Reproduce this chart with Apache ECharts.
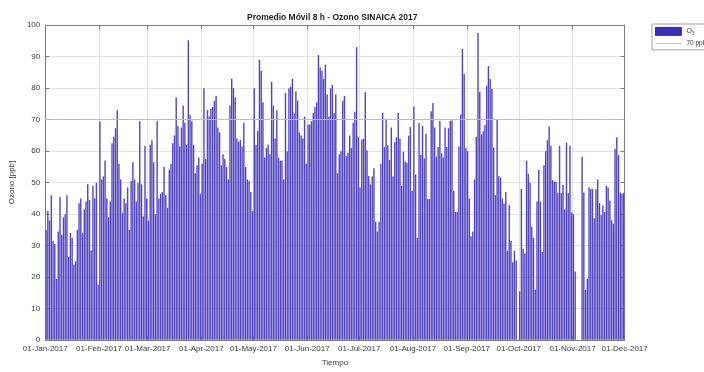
<!DOCTYPE html>
<html>
<head>
<meta charset="utf-8">
<script src="https://cdn.jsdelivr.net/npm/echarts@6/dist/echarts.min.js"></script>
<style>
html, body { margin: 0; padding: 0; background: #fff; }
#chart { width: 704px; height: 372px; }
</style>
</head>
<body>
<div id="chart"></div>
<script>
// Texts
const chartTitle = 'Promedio Móvil 8 h - Ozono SINAICA 2017';
const yAxisName = 'Ozono [ppb]';
const xAxisName = 'Tiempo';
const seriesName = 'O3';
const limitName = '70 ppb';
const limitValue = 70;

// Axis ticks
const yTicks = [0, 10, 20, 30, 40, 50, 60, 70, 80, 90, 100];
const xTickLabels = ['01-Jan-2017', '01-Feb-2017', '01-Mar-2017', '01-Apr-2017', '01-May-2017', '01-Jun-2017',
  '01-Jul-2017', '01-Aug-2017', '01-Sep-2017', '01-Oct-2017', '01-Nov-2017', '01-Dec-2017'];
const monthAbbr = ['Jan', 'Feb', 'Mar', 'Apr', 'May', 'Jun', 'Jul', 'Aug', 'Sep', 'Oct', 'Nov', 'Dec'];

// Daily 8 h moving-average ozone (ppb), one value per day; null = no data
const ozoneJan = [35, 41, 38, 46, 31.5, 30.5, 19.5, 34.5, 45.5, 33.5, 39, 40, 46, 26.5, 34, 32.5, 24, 25, 35, 43.5,
  45, 34, 41.5, 44, 49.5, 44.5, 28.5, 49, 45, 50, 17.6];
const ozoneFeb = [69.4, 51, 52, 57, 45, 39, 44, 62.5, 64.5, 67.3, 73, 56, 51, 40.4, 45, 43.5, 48.5, 35, 50.5, 56.5,
  51, 44, 50, 69.5, 49.5, 39.3, 61.6, 45];
const ozoneMar = [38, 62, 63.5, 56.5, 40, 69.5, 45, 46.5, 47, 55, 46, 42, 54, 56, 62.5, 65, 77, 68, 61.5, 67.5,
  74.5, 69, 62, 95.2, 71.5, 69.5, 62, 53, 55.5, 58, 46.5];
const ozoneApr = [56, 80, 57.5, 73, 71, 73.5, 74, 76, 77.5, 67.5, 66, 55.5, 59, 57.5, 55, 51, 74.5, 83, 80, 77,
  64, 63, 63.5, 61.5, 69, 55, 51, 50.5, 47, 41];
const ozoneMay = [80, 62, 66.5, 89, 85.5, 75.5, 58, 61, 62, 59, 82, 74.5, 64, 73, 58, 57, 57, 51, 78.5, 60,
  80, 80.5, 83, 72, 79, 76, 66, 65, 64, 71, 56];
const ozoneJun = [68.5, 68.5, 69.5, 72, 74, 75.5, 90.5, 86.5, 85.5, 83, 87.5, 78, 71, 80, 81, 72, 78, 53, 59, 60,
  76, 77.5, 58.5, 59.5, 65, 61, 69, 72.5, 93, 64.4];
const ozoneJul = [48.5, 63.7, 63.9, 78.7, 60.3, 52.1, 49.5, 52, 54.6, 37.6, 34.5, 37.6, 56, 72.2, 61.3, 70.3, 61.9,
  57.2, 67.5, 52, 62.9, 64.4, 72.2, 63.9, 49, 59.8, 56.7, 56.2, 64.9, 67.7, 47.4];
const ozoneAug = [74.2, 52.6, 32.5, 69, 58.8, 68, 57.7, 65.5, 44.8, 44.8, 72.7, 75.3, 67.5, 58.2, 61.3, 69.6, 59.3,
  58, 67.5, 61.3, 67.3, 69.6, 69.8, 47.4, 40.7, 40.7, 61.5, 71.6, 92.5, 84.5, 61];
const ozoneSep = [60, 45, 33, 34.5, 51, 64.5, 97.5, 78.8, 65.3, 66.3, 68.3, 80.8, 87, 82.9, 79.8, 61.2, 46, 69.9,
  52, 51.5, 45, 43.3, 47, 28.3, 42.8, 31.5, 24.7, 28.3, 25.3, null];
const ozoneOct = [15.5, 48, 29, 27.5, 57, 52.8, 50, 36, 32.5, 16, 44, 54, 44, 28, 55.5, 60, 63.5, 67.8, 61.7, 50.8,
  50.3, 50.3, 46.7, 61.7, 46.7, 49.3, 41.5, 62.7, 46.7, 61.7, 40.5];
const ozoneNov = [40, 21.8, null, null, null, 58.2, 46.9, 16, 19.5, 48.5, 48, 48, 38.7, 47.9, 51, 43.5, 39.7, 42.8,
  40.7, 49, 48.5, 44.3, 38.1, 37, 60.8, 64.4, 58.8, 46.9, 46.4, 46.7];

const ozone = [].concat(ozoneJan, ozoneFeb, ozoneMar, ozoneApr, ozoneMay, ozoneJun,
  ozoneJul, ozoneAug, ozoneSep, ozoneOct, ozoneNov);

// Day labels 'dd-MMM-yyyy' from 01-Jan-2017 through 01-Dec-2017
function dayLabel(t) {
  const d = new Date(t);
  const dd = String(d.getUTCDate()).padStart(2, '0');
  return dd + '-' + monthAbbr[d.getUTCMonth()] + '-' + d.getUTCFullYear();
}
const startTime = Date.UTC(2017, 0, 1);
const days = [];
for (let i = 0; i <= ozone.length; i++) days.push(dayLabel(startTime + i * 86400000));
const barDays = days.slice(0, ozone.length);

const isTick = (idx, value) => xTickLabels.indexOf(value) >= 0;

const axisColor = '#7d7d7d';
const textColor = '#3a3a3a';
const gridColor = '#e2e2e2';
const barColor = '#4a3dbf';
const limitColor = '#8ade8a';
const font = 'Liberation Sans, Arial, Helvetica, sans-serif';

const chart = echarts.init(document.getElementById('chart'), null, { renderer: 'canvas' });
chart.setOption({
  animation: false,
  textStyle: { fontFamily: font },
  title: {
    text: chartTitle,
    left: 242,
    top: 8,
    textStyle: { fontSize: 8.5, fontWeight: 'bold', color: '#1e1e1e', fontFamily: font }
  },
  legend: {
    orient: 'vertical',
    left: 652,
    top: 24,
    itemWidth: 26,
    itemHeight: 8,
    itemGap: 4,
    padding: [3, 4, 3, 3],
    borderColor: '#8a8a8a',
    borderWidth: 0.8,
    backgroundColor: '#fff',
    formatter: name => name === seriesName ? '{m|O}{s|3}' : name,
    textStyle: {
      fontSize: 6.5, color: textColor, fontFamily: font,
      rich: {
        m: { fontSize: 7, color: textColor },
        s: { fontSize: 5, color: textColor, padding: [4, 0, 0, 0] }
      }
    },
    data: [
      { name: seriesName, icon: 'rect', itemStyle: { color: '#3a2fb8', borderColor: '#1d1670', borderWidth: 0.8 } },
      { name: limitName, icon: 'path://M0,0 L26,0 L26,1 L0,1 Z', itemStyle: { color: limitColor } }
    ]
  },
  grid: { left: 42.7, right: 79.4, top: 25, bottom: 25, containLabel: false },
  xAxis: [
    { type: 'category', data: barDays, boundaryGap: true, show: false },
    {
      type: 'category', data: days, boundaryGap: false, position: 'bottom',
      axisLine: { show: true, lineStyle: { color: axisColor, width: 1 } },
      axisTick: { show: true, inside: true, length: 4, interval: isTick, lineStyle: { color: axisColor } },
      axisLabel: { interval: isTick, fontSize: 8, color: textColor, margin: 5, fontFamily: font },
      splitLine: { show: true, interval: isTick, lineStyle: { color: gridColor, width: 1 } },
      name: xAxisName, nameLocation: 'middle', nameGap: 19,
      nameTextStyle: { fontSize: 8, color: textColor, fontFamily: font }
    },
    {
      type: 'category', data: days, boundaryGap: false, position: 'top',
      axisLine: { show: true, lineStyle: { color: axisColor, width: 1 } },
      axisTick: { show: true, inside: true, length: 4, interval: isTick, lineStyle: { color: axisColor } },
      axisLabel: { show: false },
      splitLine: { show: false }
    }
  ],
  yAxis: [
    {
      type: 'value', position: 'left',
      min: yTicks[0], max: yTicks[yTicks.length - 1], interval: yTicks[1] - yTicks[0],
      axisLine: { show: true, lineStyle: { color: axisColor, width: 1 } },
      axisTick: { show: true, inside: true, length: 4, lineStyle: { color: axisColor } },
      axisLabel: { fontSize: 8, color: textColor, margin: 5, fontFamily: font },
      splitLine: { show: true, lineStyle: { color: gridColor, width: 1 } },
      name: yAxisName, nameLocation: 'middle', nameGap: 22,
      nameTextStyle: { fontSize: 8, color: textColor, fontFamily: font }
    },
    {
      type: 'value', position: 'right',
      min: yTicks[0], max: yTicks[yTicks.length - 1], interval: yTicks[1] - yTicks[0],
      axisLine: { show: true, lineStyle: { color: axisColor, width: 1 } },
      axisTick: { show: true, inside: true, length: 4, lineStyle: { color: axisColor } },
      axisLabel: { show: false },
      splitLine: { show: false }
    }
  ],
  series: [
    {
      name: seriesName, type: 'bar', xAxisIndex: 0, yAxisIndex: 0,
      data: ozone, barWidth: '100%',
      itemStyle: { color: barColor, borderColor: 'rgba(225,222,248,0.4)', borderWidth: 0.3 },
      emphasis: { disabled: true }, z: 2
    },
    {
      name: limitName, type: 'line', xAxisIndex: 1, yAxisIndex: 0,
      data: days.map(() => limitValue),
      symbol: 'none', silent: true,
      lineStyle: { color: limitColor, width: 1 }, z: 3
    }
  ]
});
</script>
</body>
</html>
